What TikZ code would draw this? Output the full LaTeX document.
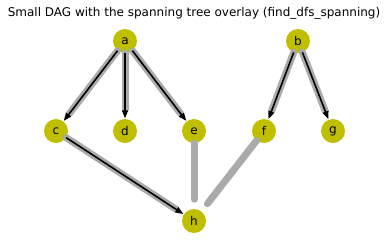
\documentclass[tikz,border=0pt]{standalone}
\usepackage{fontspec}
\setmainfont{DejaVu Sans}
\usetikzlibrary{arrows.meta}
\definecolor{nodeolive}{HTML}{BFBF00}
\definecolor{treegrey}{HTML}{AAAAAA}
\tikzset{
  vertex/.style={circle, fill=nodeolive, draw=none, minimum size=24pt, inner sep=0pt, font=\fontsize{12pt}{14pt}\selectfont},
  dagedge/.style={draw=treegrey, fill=treegrey, line width=7pt, line cap=round,
    -{Triangle[length=3pt,width=6pt,round,line width=3.5pt]}, shorten >=7pt},
  treeedge/.style={draw=black, line width=1.6pt,
    -{Triangle[length=8pt,width=6pt]}, shorten >=0.5pt},
}
\begin{document}
\begin{tikzpicture}[x=1pt,y=-1pt]
\useasboundingbox (0,0) rectangle (388,247);
\node[font=\fontsize{12pt}{14pt}\selectfont] (title) at (194,13) {Small DAG with the spanning tree overlay (find\_dfs\_spanning)};
\node[vertex] (a) at (125,41) {a};
\node[vertex] (b) at (298,41) {b};
\node[vertex] (c) at (56,131) {c};
\node[vertex] (d) at (125,131) {d};
\node[vertex] (e) at (194,131) {e};
\node[vertex] (f) at (264,131) {f};
\node[vertex] (g) at (333,131) {g};
\node[vertex] (h) at (194,221) {h};
% all edges of the DAG, wide and grey
\foreach \s/\t in {a/c,a/d,a/e,b/f,b/g,c/h,e/h,f/h}
  \draw[dagedge] (\s) -- (\t);
% spanning tree edges on top
\foreach \s/\t in {a/c,a/d,a/e,b/f,b/g,c/h}
  \draw[treeedge] (\s) -- (\t);
\end{tikzpicture}
\end{document}
